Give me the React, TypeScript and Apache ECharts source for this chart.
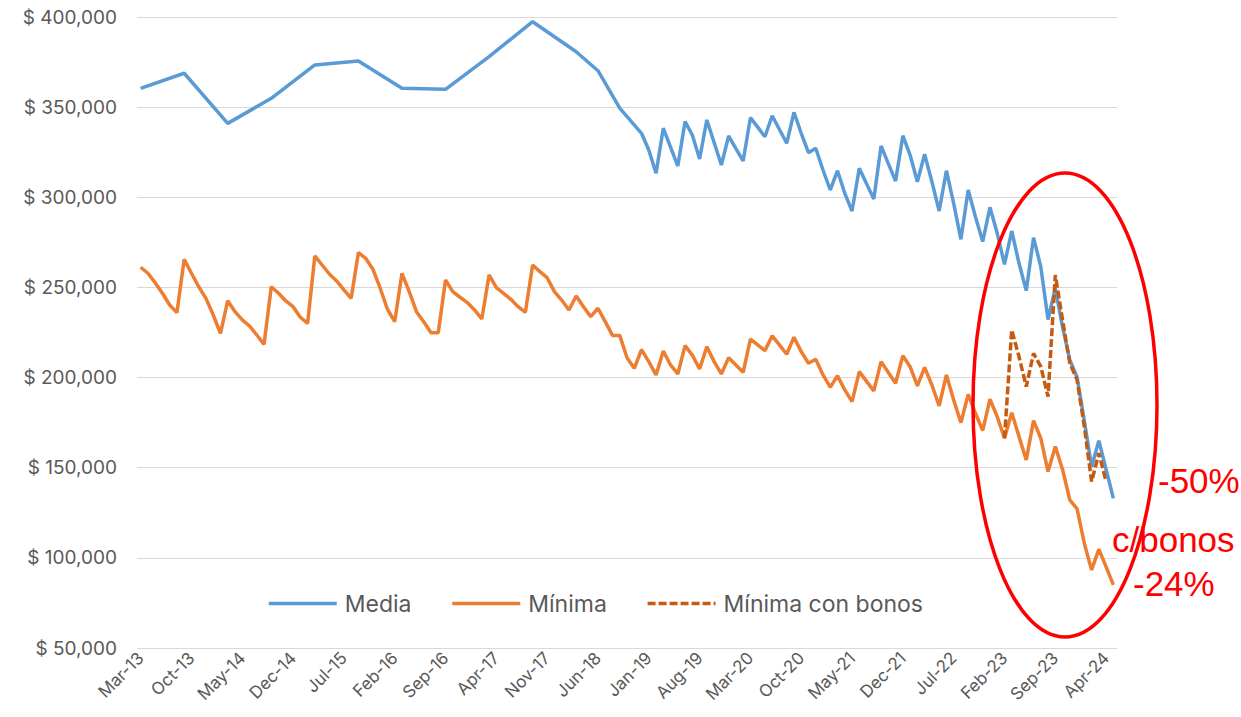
import React, { useEffect, useRef } from "react";
import * as echarts from "echarts";

const MONTHS = ["Jan", "Feb", "Mar", "Apr", "May", "Jun", "Jul", "Aug", "Sep", "Oct", "Nov", "Dec"];

// Monthly categories Mar-13 .. May-24
const categories: string[] = [];
for (let y = 13; y <= 24; y++) {
  for (let m = 0; m < 12; m++) {
    if (y === 13 && m < 2) continue;
    if (y === 24 && m > 4) continue;
    categories.push(`${MONTHS[m]}-${y}`);
  }
}

const yTicks = { min: 50000, max: 400000, interval: 50000 };

// Media: semiannual points until 2018, then quarterly, then monthly
const media: (number | null)[] = [
  360450, null, null, null, null, null,
  368800, null, null, null, null, null,
  341000, null, null, null, null, null,
  354900, null, null, null, null, null,
  373400, null, null, null, null, null,
  375600, null, null, null, null, null,
  360450, null, null, null, null, null,
  359900, null, null, null, null, null,
  378000, null, null, null, null, null,
  397400, null, null, null, null, null,
  380750, null, null,
  370200, null, null,
  349400, null, null,
  335500, 326200, 313300, 338300, 327800, 317350, 341950, 334550, 321250, 342900,
  330400, 317900, 334000, 327000, 320150, 344150, 338900, 333600, 345250, 337600,
  329950, 347150, 335500, 324750, 327200, 315150, 304050, 314750, 302200, 292400,
  316100, 307500, 299050, 328450, 318700, 309050, 334150, 323450, 308650, 323850,
  308650, 292400, 314750, 296650, 276700, 304050, 289250, 275400, 294450, 280000,
  262850, 281300, 263400, 248200, 277600, 261500, 232200, 249500, 228000, 209750,
  200150, 176000, 150500, 165000, 149000, 133000,
];

const minima: number[] = [
  261200, 257850, 252650, 246750, 240250, 236000, 265600, 257850, 250400, 243950,
  234700, 224550, 242650, 236550, 231950, 228600, 223600, 218450, 250400, 246750,
  242500, 239300, 233450, 230100, 267450, 262450, 257450, 253600, 248600, 244000,
  269300, 266150, 260050, 249550, 237900, 231000, 257850, 247650, 236550, 231000,
  224900, 224900, 254150, 247650, 244550, 241600, 237500, 232500, 256900, 249850,
  246750, 243400, 239300, 236200, 262450, 258750, 255400, 247650, 243000, 237500,
  245250, 239300, 233800, 238450, 231000, 223400, 223400, 211000, 205150, 215500,
  208850, 201450, 214750, 207000, 202000, 217700, 212450, 204750, 217150, 208850,
  202000, 211050, 207000, 202950, 221350, 218100, 214950, 223150, 218100, 212950,
  222400, 214400, 207950, 210150, 201450, 194650, 201050, 193150, 186650, 203300,
  197900, 192600, 208850, 202800, 196850, 212150, 206050, 195350, 205700, 195900,
  184250, 201500, 187550, 175000, 190700, 180200, 170550, 188000, 178300, 166350,
  180550, 167250, 154300, 176100, 166350, 147850, 161800, 149000, 132100, 127200,
  108000, 93300, 104800, 95000, 85000,
];

const bonosStart = 119; // Feb-23
const minimaConBonos: number[] = [
  166350, 226400, 211600, 194950, 213450, 206050, 189400, 256900, 231950, 207950,
  198700, 172800, 142300, 158000, 142300,
];
const bonosSeries: (number | null)[] = categories.map((_, i) =>
  i >= bonosStart && i - bonosStart < minimaConBonos.length ? minimaConBonos[i - bonosStart] : null
);

const FONT = "Inter";
const GREY = "#595959";

export default function App() {
  const ref = useRef<HTMLDivElement>(null);

  useEffect(() => {
    const chart = echarts.init(ref.current!, null, { renderer: "svg" });
    chart.setOption({
      animation: false,
      backgroundColor: "#ffffff",
      grid: { left: 137, right: 124, top: 17, height: 631, containLabel: false },
      xAxis: {
        type: "category",
        data: categories,
        boundaryGap: true,
        axisLine: { show: false },
        axisTick: { show: false },
        axisLabel: {
          interval: 6,
          rotate: 45,
          margin: 7,
          fontFamily: FONT,
          fontSize: 17,
          color: GREY,
        },
        splitLine: { show: false },
      },
      yAxis: {
        type: "value",
        min: yTicks.min,
        max: yTicks.max,
        interval: yTicks.interval,
        axisLine: { show: false },
        axisTick: { show: false },
        axisLabel: {
          margin: 20,
          fontFamily: FONT,
          fontSize: 19,
          color: GREY,
          formatter: (v: number) => "$ " + v.toLocaleString("en-US"),
        },
        splitLine: { lineStyle: { color: "#D9D9D9", width: 1 } },
      },
      legend: {
        left: 262,
        top: 587,
        itemWidth: 68,
        itemHeight: 14,
        itemGap: 39,
        itemStyle: { opacity: 0 },
        lineStyle: { width: 3.5 },
        textStyle: { fontFamily: FONT, fontSize: 23, color: GREY, padding: [0, 0, 0, 3] },
        data: ["Media", "Mínima", "Mínima con bonos"],
      },
      series: [
        {
          name: "Media",
          type: "line",
          data: media,
          connectNulls: true,
          symbol: "none",
          lineStyle: { color: "#5B9BD5", width: 3.5 },
          itemStyle: { color: "#5B9BD5" },
        },
        {
          name: "Mínima",
          type: "line",
          data: minima,
          symbol: "none",
          lineStyle: { color: "#ED7D31", width: 3.5 },
          itemStyle: { color: "#ED7D31" },
        },
        {
          name: "Mínima con bonos",
          type: "line",
          data: bonosSeries,
          symbol: "none",
          lineStyle: { color: "#C55A11", width: 3.5, type: [8, 3] },
          itemStyle: { color: "#C55A11" },
        },
      ],
      graphic: [
        {
          type: "ellipse",
          z: 100,
          shape: { cx: 1065, cy: 405, rx: 92, ry: 232 },
          style: { fill: "none", stroke: "#FF0000", lineWidth: 3.5 },
        },
        {
          type: "text",
          z: 100,
          style: {
            x: 1158, y: 480, text: "-50%", fill: "#FF0000",
            font: "35px 'Liberation Sans', Arial, sans-serif",
            textAlign: "left", textVerticalAlign: "middle",
          },
        },
        {
          type: "text",
          z: 100,
          style: {
            x: 1112, y: 539, text: "c/bonos", fill: "#FF0000",
            font: "35px 'Liberation Sans', Arial, sans-serif",
            textAlign: "left", textVerticalAlign: "middle",
          },
        },
        {
          type: "text",
          z: 100,
          style: {
            x: 1133, y: 583, text: "-24%", fill: "#FF0000",
            font: "35px 'Liberation Sans', Arial, sans-serif",
            textAlign: "left", textVerticalAlign: "middle",
          },
        },
      ],
    });
    return () => chart.dispose();
  }, []);

  return (
    <div
      ref={ref}
      style={{ position: "fixed", left: 0, top: 0, width: 1241, height: 717, background: "#fff" }}
    />
  );
}
